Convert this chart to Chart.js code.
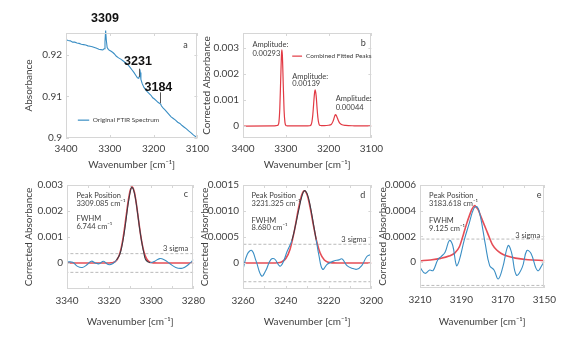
<!DOCTYPE html>
<html>
<head>
<meta charset="utf-8">
<script src="https://cdn.jsdelivr.net/npm/chart.js@4.4.1/dist/chart.umd.min.js"></script>
<style>
  html, body { margin: 0; padding: 0; background: #fff; }
  #wrap { position: relative; width: 575px; height: 339px; overflow: hidden; }
  .pane { position: absolute; }
</style>
</head>
<body>
<div id="wrap">
  <div class="pane" style="left:19px;top:0;width:195px;height:175px"><canvas id="chartA"></canvas></div>
  <div class="pane" style="left:197px;top:0;width:191px;height:175px"><canvas id="chartB"></canvas></div>
  <div class="pane" style="left:19px;top:170px;width:192px;height:162px"><canvas id="chartC"></canvas></div>
  <div class="pane" style="left:195px;top:170px;width:194px;height:162px"><canvas id="chartD"></canvas></div>
  <div class="pane" style="left:373px;top:170px;width:189px;height:162px"><canvas id="chartE"></canvas></div>
</div>
<script>
// ---- a: original FTIR spectrum ----
const aWave = [3400, 3395, 3390, 3385, 3380, 3375, 3370, 3365, 3360, 3355, 3350, 3345, 3340, 3335, 3330, 3325, 3320,
  3316, 3313, 3311, 3309.5, 3308, 3306, 3303, 3300, 3297, 3293, 3290,
  3285, 3280, 3275, 3270, 3265, 3260, 3255, 3250, 3245, 3240,
  3237, 3234, 3232, 3230.5, 3229, 3226,
  3222, 3218, 3214, 3210, 3206, 3202, 3198,
  3194, 3190, 3186, 3184, 3182, 3178, 3174, 3170,
  3165, 3160, 3155, 3150, 3145, 3140, 3135, 3130, 3125, 3120, 3115, 3110, 3105, 3100];
const aAbs = [0.9237, 0.9235, 0.9234, 0.9231, 0.9231, 0.9229, 0.9228, 0.9226, 0.9225, 0.9224, 0.9222, 0.9221, 0.9220, 0.9218, 0.9216, 0.9214, 0.9213,
  0.9212, 0.9215, 0.9232, 0.9259, 0.9236, 0.9218, 0.9213, 0.9211, 0.9209, 0.9206, 0.9203,
  0.9197, 0.9193, 0.9190, 0.9186, 0.9182, 0.9178, 0.9172, 0.9165, 0.9158, 0.9150,
  0.9145, 0.9144, 0.9150, 0.9158, 0.9141, 0.9131,
  0.9122, 0.9116, 0.9111, 0.9107, 0.9103, 0.9097, 0.9094,
  0.9090, 0.9086, 0.9083, 0.9082, 0.9077, 0.9072, 0.9068, 0.9063,
  0.9057, 0.9051, 0.9047, 0.9043, 0.9038, 0.9035, 0.9030, 0.9026, 0.9022, 0.9017, 0.9013, 0.9008, 0.9004, 0.9001];

// ---- b: combined fitted peaks ----
const bWave = [3400, 3330, 3321, 3318, 3316, 3314, 3312, 3310, 3309.1, 3308,
  3306, 3304, 3302, 3300, 3297, 3290, 3260, 3250, 3244, 3241,
  3239, 3237, 3235, 3233, 3231.3, 3229, 3227, 3225, 3223, 3221,
  3218, 3210, 3200, 3194, 3190, 3188, 3186, 3184.5, 3183.6, 3182.5,
  3181, 3179, 3177, 3174, 3170, 3160, 3140, 3100];
const bFit = [0, 0.000003, 0.00002, 0.00004, 0.00016, 0.00068, 0.00175, 0.00278, 0.00293, 0.00272,
  0.00163, 0.0006, 0.00014, 0.00003, 0.00001, 0.000005, 0.000003, 0.000006, 0.000012, 0.000045,
  0.00016, 0.00042, 0.00084, 0.00125, 0.00139, 0.00115, 0.0007, 0.00032, 0.00011, 0.00003,
  0.00002, 0.000015, 0.00003, 0.00006, 0.00017, 0.00026, 0.00037, 0.00043, 0.00044, 0.00042,
  0.00037, 0.00029, 0.0002, 0.00011, 0.00006, 0.000025, 0.00001, 0.000003];

// ---- c: peak near 3309 ----
const cWave = [3340, 3337.3, 3335, 3332.7, 3330.4, 3328.4, 3326.6, 3324.7, 3322.7, 3320.4,
  3318.2, 3316.5, 3315, 3314, 3313, 3312, 3311, 3310, 3309.3, 3308.5,
  3307.5, 3306.5, 3305.5, 3304.5, 3303.5, 3302.6, 3300.6, 3298.3, 3296, 3293.7,
  3291.4, 3288.4, 3285.3, 3282.3, 3280];
const cMeas = [0.00004, 0.00003, -0.00013, -0.00017, -0.00006, 0.00007, 0, -0.00003, 0.00007, -0.00006,
  -0.00002, 0.00012, 0.00032, 0.00062, 0.00107, 0.00165, 0.00226, 0.00273, 0.00291, 0.00283,
  0.00248, 0.00192, 0.00131, 0.00079, 0.00038, 0.00012, 0.00001, 0.00007, 0.00017, 0.00012,
  -0.00001, -0.00017, -0.0002, -0.00006, 0.00013];
const cFitWave = [3340, 3322, 3320, 3319, 3318, 3317, 3316, 3315, 3314, 3313,
  3312, 3311, 3310, 3309.1, 3308, 3307, 3306, 3305, 3304, 3303,
  3302, 3301, 3300, 3299, 3297, 3280];
const cFit = [0, 0, 0.000002, 0.0000074, 0.0000234, 0.0000653, 0.000161, 0.000351, 0.000678, 0.00116,
  0.001755, 0.002351, 0.002789, 0.00293, 0.002722, 0.002239, 0.001631, 0.001052, 0.0006, 0.000303,
  0.000136, 0.0000537, 0.0000188, 0.0000058, 0, 0];
const cWindow = [3299, 3318];
const cSigma = 0.00036;

// ---- d: peak near 3231 ----
const dWave = [3260, 3258, 3255.9, 3253.9, 3251.3, 3249.4, 3247.1, 3245.3, 3242.8, 3241.3,
  3239.5, 3237.2, 3235.5, 3234, 3232.5, 3231.3, 3230, 3228.5, 3227, 3225.8,
  3224.5, 3222.8, 3220.5, 3217.5, 3215.2, 3213.7, 3211.4, 3209.1, 3206.8, 3204.5,
  3202.2, 3200.5];
const dMeas = [-0.00012, 0.00017, 0.00024, 0.00004, -0.00025, -0.00015, 0.00006, 0.00008, -0.00006, 0.00001,
  0.00021, 0.00043, 0.00072, 0.00101, 0.00128, 0.00139, 0.00133, 0.00108, 0.00073, 0.00045,
  0.00014, -0.00012, -0.00002, 0.00004, 0.00006, 0.00008, -0.00005, -0.0001, -0.00012, -0.00005,
  0.00012, 0.00016];
const dFitWave = [3260, 3246, 3244, 3242, 3240, 3238, 3236, 3234, 3232.5, 3231.3,
  3230, 3228.5, 3227, 3225.5, 3224, 3222, 3220, 3218, 3216, 3200];
const dFit = [0, 0, 0.0000037, 0.0000206, 0.0000858, 0.000266, 0.000617, 0.001063, 0.001318, 0.00139,
  0.001306, 0.001042, 0.000704, 0.000403, 0.000196, 0.0000576, 0.0000127, 0.0000021, 0, 0];
const dWindow = [3225.5, 3238];
const dSigma = 0.00036;

// ---- e: peak near 3184 ----
const eWave = [3210, 3207.6, 3205.3, 3203.7, 3201.4, 3199.8, 3197.9, 3195.8, 3194.2, 3192.4,
  3191.1, 3188.7, 3186.3, 3184, 3182.4, 3180.8, 3178.5, 3176.4, 3174.3, 3172.3,
  3170.1, 3167.5, 3165.9, 3163.5, 3160.7, 3158.5, 3156.5, 3153.3, 3150.6];
const eMeas = [-0.00004, -0.000086, -0.00006, -0.000065, 0.00002, 0.000044, 0.000078, 0.00017, 0.00013, -0.000026,
  0.000013, 0.00017, 0.0003, 0.00042, 0.00043, 0.00035, 0.00014, -0.000026, -0.00006, -0.00013,
  -0.00004, 0.00013, 0.000078, -0.0001, -0.00004, 0.00009, 0.00007, -0.000065, -0.000008];
const eFitWave = [3210, 3205, 3200, 3196, 3193, 3191, 3189, 3187.5, 3186, 3185,
  3184.3, 3183.6, 3183, 3182, 3181, 3179.5, 3178, 3176.5, 3175, 3173,
  3171, 3168, 3164, 3158, 3150];
const eFit = [0.000012, 0.000018, 0.00003, 0.000048, 0.000075, 0.00012, 0.00022, 0.0003, 0.00037, 0.00041,
  0.00043, 0.00044, 0.00043, 0.00041, 0.00037, 0.00031, 0.00025, 0.00019, 0.000135, 0.000095,
  0.00007, 0.000048, 0.000032, 0.00002, 0.000013];
const eSigma = 0.00018;

// ---- axis ticks ----
const wideTicks = [3400, 3300, 3200, 3100];
const aYTicks = [0.9, 0.91, 0.92];
const aYLabels = ['0.9', '0.91', '0.92'];
const bYTicks = [0, 0.001, 0.002, 0.003];
const bYLabels = ['0', '0.001', '0.002', '0.003'];
const cXTicks = [3340, 3320, 3300, 3280];
const cYTicks = [0, 0.001, 0.002, 0.003];
const cYLabels = ['0', '0.001', '0.002', '0.003'];
const dXTicks = [3260, 3240, 3220, 3200];
const dYTicks = [0, 0.0005, 0.001, 0.0015];
const dYLabels = ['0', '0.0005', '0.0010', '0.0015'];
const eXTicks = [3210, 3190, 3170, 3150];
const eYTicks = [0, 0.0002, 0.0004, 0.0006];
const eYLabels = ['0', '0.0002', '0.0004', '0.0006'];

const BLUE = '#3a8ec4';
const DARK = '#3c3c46';
const RED = '#e23a44';
const INK = '#404040';
const FRAME = '#d6d6d6';
Chart.defaults.font.family = "Lato, 'Open Sans', sans-serif";

function pairs(xs, ys) { return xs.map((x, i) => ({ x, y: ys[i] })); }

function sigmaLines(s, x0, x1) {
  const base = { borderColor: '#a8a8a8', borderWidth: 0.8, borderDash: [3, 2], pointRadius: 0, order: 3 };
  return [
    Object.assign({ data: [{ x: x0, y: s }, { x: x1, y: s }] }, base),
    Object.assign({ data: [{ x: x0, y: -s }, { x: x1, y: -s }] }, base)
  ];
}

// frame, inward ticks and the in-plot texts
function decor(o) {
  return {
    id: 'decor',
    afterDraw(chart) {
      const { ctx, chartArea: a } = chart;
      const sx = chart.scales.x, sy = chart.scales.y;
      ctx.save();
      ctx.strokeStyle = FRAME;
      ctx.lineWidth = 1;
      ctx.strokeRect(Math.round(a.left) + 0.5, Math.round(a.top) + 0.5,
        Math.round(a.right - a.left) - 1, Math.round(a.bottom - a.top) - 1);
      ctx.beginPath();
      o.xMarks.forEach(v => {
        const px = Math.round(sx.getPixelForValue(v)) + 0.5;
        ctx.moveTo(px, a.top); ctx.lineTo(px, a.top + 3);
        ctx.moveTo(px, a.bottom); ctx.lineTo(px, a.bottom - 3);
      });
      o.yTicks.forEach(v => {
        const py = Math.round(sy.getPixelForValue(v)) + 0.5;
        ctx.moveTo(a.left, py); ctx.lineTo(a.left + 3, py);
        ctx.moveTo(a.right, py); ctx.lineTo(a.right - 3, py);
      });
      ctx.stroke();

      (o.pointers || []).forEach(p => {
        ctx.strokeStyle = '#555';
        ctx.lineWidth = 1;
        ctx.beginPath();
        const px = Math.round(sx.getPixelForValue(p.x)) + 0.5;
        ctx.moveTo(px, sy.getPixelForValue(p.y0));
        ctx.lineTo(px, sy.getPixelForValue(p.y1));
        ctx.stroke();
      });

      (o.keys || []).forEach(k => {
        const y = sy.getPixelForValue(k.y);
        ctx.strokeStyle = k.color;
        ctx.lineWidth = 1.2;
        ctx.beginPath();
        ctx.moveTo(sx.getPixelForValue(k.x0), y);
        ctx.lineTo(sx.getPixelForValue(k.x1), y);
        ctx.stroke();
        ctx.font = '6.5px Lato, sans-serif';
        ctx.fillStyle = INK;
        ctx.textAlign = 'left';
        ctx.textBaseline = 'middle';
        ctx.fillText(k.text, sx.getPixelForValue(k.xt), y);
      });

      (o.notes || []).forEach(n => {
        ctx.font = n.font || '7.5px Lato, sans-serif';
        ctx.fillStyle = n.color || INK;
        ctx.textAlign = n.align || 'left';
        ctx.textBaseline = 'middle';
        ctx.fillText(n.text, sx.getPixelForValue(n.x), sy.getPixelForValue(n.y));
      });
      ctx.restore();
    }
  };
}

function makePanel(id, o) {
  return new Chart(document.getElementById(id), {
    type: 'line',
    data: { datasets: o.datasets },
    options: {
      responsive: true,
      maintainAspectRatio: false,
      animation: false,
      layout: { padding: { top: o.padTop, right: 14, left: 0, bottom: 0 } },
      plugins: { legend: { display: false }, tooltip: { enabled: false } },
      elements: { point: { radius: 0 } },
      scales: {
        x: {
          type: 'linear', reverse: true, min: o.xMin, max: o.xMax,
          afterBuildTicks: s => { s.ticks = o.xTicks.map(v => ({ value: v })); },
          afterFit: s => { s.height = o.xAxisH; },
          grid: { display: false, drawTicks: false, tickLength: 0 }, border: { display: false },
          ticks: { color: INK, font: { size: 10 }, padding: o.xPad, maxRotation: 0, autoSkip: false,
                   callback: v => String(v) },
          title: { display: true, text: 'Wavenumber [cm⁻¹]', color: INK, font: { size: 10 }, padding: 4 }
        },
        y: {
          type: 'linear', min: o.yMin, max: o.yMax,
          afterBuildTicks: s => { s.ticks = o.yTicks.map(v => ({ value: v })); },
          afterFit: s => { s.width = o.yAxisW; },
          grid: { display: false, drawTicks: false, tickLength: 0 }, border: { display: false },
          ticks: { color: INK, font: { size: 10 }, padding: 4, autoSkip: false,
                   callback: (v, i) => o.yLabels[i] },
          title: { display: true, text: o.yTitle, color: INK, font: { size: 10 }, padding: 4 }
        }
      }
    },
    plugins: [decor(o)]
  });
}

const bigFont = 'bold 12.5px "Liberation Sans", Arial, sans-serif';
const letterFont = '9px Lato, sans-serif';

makePanel('chartA', {
  padTop: 33, xAxisH: 37, yAxisW: 47, xPad: 5,
  xMin: 3100, xMax: 3400, xTicks: wideTicks, xMarks: wideTicks,
  yMin: 0.9, yMax: 0.9253, yTicks: aYTicks, yLabels: aYLabels, yTitle: 'Absorbance',
  datasets: [{ data: pairs(aWave, aAbs), borderColor: BLUE, borderWidth: 1.1, tension: 0, clip: false }],
  pointers: [{ x: 3233, y0: 0.9167, y1: 0.9147 }, { x: 3186, y0: 0.9110, y1: 0.9084 }],
  keys: [{ x0: 3373, x1: 3347, xt: 3339, y: 0.9043, color: BLUE, text: 'Original FTIR Spectrum' }],
  notes: [
    { x: 3311, y: 0.9289, text: '3309', font: bigFont, color: '#111', align: 'center' },
    { x: 3235.6, y: 0.9184, text: '3231', font: bigFont, color: '#111', align: 'center' },
    { x: 3189, y: 0.9122, text: '3184', font: bigFont, color: '#111', align: 'center' },
    { x: 3127, y: 0.9224, text: 'a', font: letterFont, align: 'center' }
  ]
});

makePanel('chartB', {
  padTop: 33, xAxisH: 37, yAxisW: 46, xPad: 5,
  xMin: 3100, xMax: 3400, xTicks: wideTicks, xMarks: wideTicks,
  yMin: -0.00046, yMax: 0.00358, yTicks: bYTicks, yLabels: bYLabels, yTitle: 'Corrected Absorbance',
  datasets: [{ data: pairs(bWave, bFit), borderColor: RED, borderWidth: 1.2, cubicInterpolationMode: 'monotone' }],
  keys: [{ x0: 3285, x1: 3262, xt: 3253, y: 0.00269, color: RED, text: 'Combined Fitted Peaks' }],
  notes: [
    { x: 3378, y: 0.00314, text: 'Amplitude:' },
    { x: 3378, y: 0.0028, text: '0.00293' },
    { x: 3285, y: 0.00192, text: 'Amplitude:' },
    { x: 3285, y: 0.00162, text: '0.00139' },
    { x: 3183.3, y: 0.00105, text: 'Amplitude:' },
    { x: 3183.3, y: 0.00072, text: '0.00044' },
    { x: 3119, y: 0.00318, text: 'b', font: letterFont, align: 'center' }
  ]
});

function peakPanel(id, o) {
  const w = o.win;
  const dark = c => w && c.p1.parsed.x >= w[0] && c.p0.parsed.x <= w[1];
  o.datasets = [
    { data: pairs(o.wave, o.meas), borderColor: BLUE, borderWidth: 1.1, tension: 0.4, order: 1,
      segment: { borderColor: c => dark(c) ? DARK : BLUE } },
    { data: pairs(o.fitWave, o.fit), borderColor: 'rgba(226,58,68,0.9)', borderWidth: 1.6,
      cubicInterpolationMode: 'monotone', order: 2 }
  ].concat(sigmaLines(o.sigma, o.xMin, o.xMax));
  return makePanel(id, o);
}

peakPanel('chartC', {
  padTop: 15, xAxisH: 43, yAxisW: 48, xPad: 6,
  xMin: 3280, xMax: 3340, xTicks: cXTicks, xMarks: [3340, 3330, 3320, 3310, 3300, 3290, 3280],
  yMin: -0.001, yMax: 0.003, yTicks: cYTicks, yLabels: cYLabels, yTitle: 'Corrected Absorbance',
  wave: cWave, meas: cMeas, fitWave: cFitWave, fit: cFit, sigma: cSigma, win: cWindow,
  notes: [
    { x: 3335.5, y: 0.00258, text: 'Peak Position' },
    { x: 3335.5, y: 0.00227, text: '3309.085 cm⁻¹' },
    { x: 3335.5, y: 0.00171, text: 'FWHM' },
    { x: 3335.5, y: 0.00139, text: '6.744 cm⁻¹' },
    { x: 3283.6, y: 0.00265, text: 'c', font: letterFont, align: 'center' },
    { x: 3282.5, y: 0.00056, text: '3 sigma', align: 'right' }
  ]
});

peakPanel('chartD', {
  padTop: 15, xAxisH: 43, yAxisW: 48, xPad: 6,
  xMin: 3200, xMax: 3260, xTicks: dXTicks, xMarks: [3260, 3250, 3240, 3230, 3220, 3210, 3200],
  yMin: -0.0005, yMax: 0.0015, yTicks: dYTicks, yLabels: dYLabels, yTitle: 'Corrected Absorbance',
  wave: dWave, meas: dMeas, fitWave: dFitWave, fit: dFit, sigma: dSigma, win: dWindow,
  notes: [
    { x: 3256, y: 0.00129, text: 'Peak Position' },
    { x: 3256, y: 0.00115, text: '3231.325 cm⁻¹' },
    { x: 3256, y: 0.00082, text: 'FWHM' },
    { x: 3256, y: 0.00068, text: '8.680 cm⁻¹' },
    { x: 3204, y: 0.00131, text: 'd', font: letterFont, align: 'center' },
    { x: 3202.3, y: 0.00045, text: '3 sigma', align: 'right' }
  ]
});

peakPanel('chartE', {
  padTop: 15, xAxisH: 44, yAxisW: 47, xPad: 6,
  xMin: 3150, xMax: 3210, xTicks: eXTicks, xMarks: [3210, 3200, 3190, 3180, 3170, 3160, 3150],
  yMin: -0.0002, yMax: 0.0006, yTicks: eYTicks, yLabels: eYLabels, yTitle: 'Corrected Absorbance',
  wave: eWave, meas: eMeas, fitWave: eFitWave, fit: eFit, sigma: eSigma, win: null,
  notes: [
    { x: 3205.6, y: 0.000516, text: 'Peak Position' },
    { x: 3205.6, y: 0.000456, text: '3183.618 cm⁻¹' },
    { x: 3205.6, y: 0.00032, text: 'FWHM' },
    { x: 3205.6, y: 0.000258, text: '9.125 cm⁻¹' },
    { x: 3152.5, y: 0.00052, text: 'e', font: letterFont, align: 'center' },
    { x: 3152, y: 0.00021, text: '3 sigma', align: 'right' }
  ]
});
</script>
</body>
</html>
